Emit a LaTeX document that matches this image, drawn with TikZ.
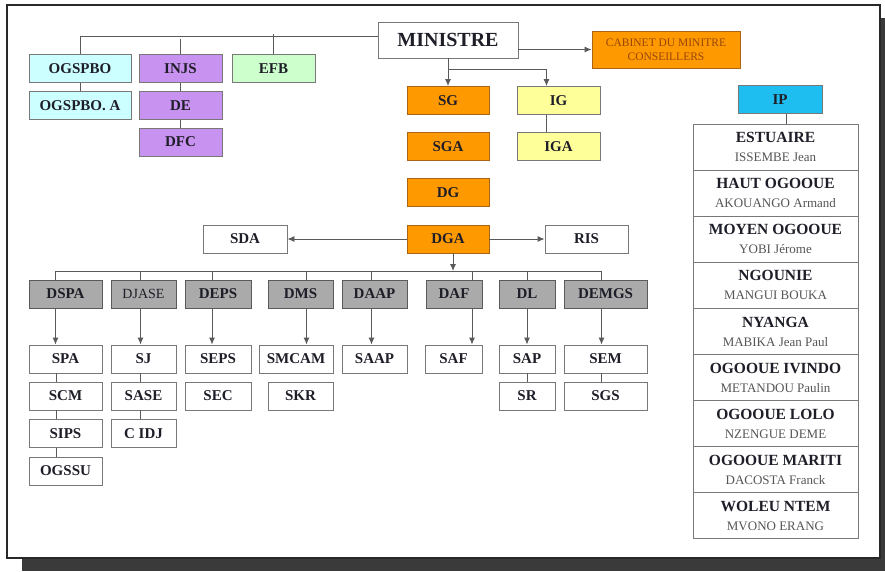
\documentclass[tikz,border=0pt]{standalone}
\usepackage{fontspec}
\setmainfont{Liberation Serif}
\usetikzlibrary{arrows.meta}

\definecolor{framegray}{RGB}{40,40,40}
\definecolor{shadowgray}{RGB}{58,58,58}
\definecolor{linegray}{RGB}{90,90,90}
\definecolor{boxline}{RGB}{120,120,120}
\definecolor{boxtext}{RGB}{30,30,40}
\definecolor{orgfill}{RGB}{255,153,0}
\definecolor{orgline}{RGB}{170,100,20}
\definecolor{cabtext}{RGB}{150,70,10}
\definecolor{cyanfill}{RGB}{204,255,255}
\definecolor{purfill}{RGB}{200,146,240}
\definecolor{grnfill}{RGB}{204,255,204}
\definecolor{yelfill}{RGB}{255,255,153}
\definecolor{ipfill}{RGB}{30,190,240}
\definecolor{dirfill}{RGB}{170,170,170}
\definecolor{namegray}{RGB}{85,85,85}

\newcommand{\prov}[2]{{\bfseries #1}\\{\fontsize{13}{19}\selectfont\color{namegray}#2}}

\tikzset{
	box/.style={rectangle, draw=boxline, fill=white, line width=0.9pt, inner sep=0pt,
		minimum height=28pt, text=boxtext, font=\bfseries\fontsize{15}{15}\selectfont},
	orgbox/.style={box, fill=orgfill, draw=orgline},
	cyanbox/.style={box, fill=cyanfill},
	purbox/.style={box, fill=purfill},
	grnbox/.style={box, fill=grnfill},
	yelbox/.style={box, fill=yelfill},
	dirbox/.style={box, fill=dirfill, draw=linegray},
	row/.style={box, minimum width=165pt, minimum height=46.1pt, align=center,
		font=\fontsize{15.5}{19}\selectfont},
	link/.style={draw=linegray, line width=0.9pt},
	arr/.style={link, -{Latex[length=7pt,width=6pt]}}
}

\begin{document}
\begin{tikzpicture}[x=1pt,y=-1pt]

	\useasboundingbox (0,0) rectangle (885,571);
	\fill[shadowgray] (22,18) rectangle (885,571);
	\draw[framegray, line width=1.5pt, fill=white] (7,5) rectangle (880,558);

	% top
	\node[box, minimum width=140pt, minimum height=36pt, font=\bfseries\fontsize{20}{20}\selectfont] (minis) at (448,40) {MINISTRE};
	\node[orgbox, minimum width=148pt, minimum height=37pt, align=center, text=cabtext, font=\fontsize{11.5}{13.5}\selectfont] (cab) at (666,49.5) {CABINET DU MINITRE\\CONSEILLERS};

	\node[cyanbox, minimum width=102pt] (ogspbo) at (80,68.5) {OGSPBO};
	\node[cyanbox, minimum width=102pt] (ogspboa) at (80,105.5) {OGSPBO. A};
	\node[purbox, minimum width=83pt] (injs) at (180.5,68.5) {INJS};
	\node[purbox, minimum width=83pt] (de) at (180.5,105.5) {DE};
	\node[purbox, minimum width=83pt] (dfc) at (180.5,142) {DFC};
	\node[grnbox, minimum width=83pt] (efb) at (273.5,68.5) {EFB};

	\node[orgbox, minimum width=82pt] (sg) at (448,100.5) {SG};
	\node[orgbox, minimum width=82pt] (sga) at (448,146.5) {SGA};
	\node[orgbox, minimum width=82pt] (dg) at (448,192.5) {DG};
	\node[orgbox, minimum width=82pt] (dga) at (448,239) {DGA};
	\node[yelbox, minimum width=83pt] (ig) at (558.5,100.5) {IG};
	\node[yelbox, minimum width=83pt] (iga) at (558.5,146.5) {IGA};
	\node[box, minimum width=84pt] (sda) at (245,239) {SDA};
	\node[box, minimum width=83pt] (ris) at (586.5,239) {RIS};

	% provinces
	\node[box, fill=ipfill, minimum width=84pt] (ip) at (780,99.5) {IP};
	\node[row] (r1) at (775.5,147.05) {\prov{ESTUAIRE}{ISSEMBE Jean}};
	\node[row] (r2) at (775.5,193.15) {\prov{HAUT OGOOUE}{AKOUANGO Armand}};
	\node[row] (r3) at (775.5,239.25) {\prov{MOYEN OGOOUE}{YOBI Jérome}};
	\node[row] (r4) at (775.5,285.35) {\prov{NGOUNIE}{MANGUI BOUKA}};
	\node[row] (r5) at (775.5,331.45) {\prov{NYANGA}{MABIKA Jean Paul}};
	\node[row] (r6) at (775.5,377.55) {\prov{OGOOUE IVINDO}{METANDOU Paulin}};
	\node[row] (r7) at (775.5,423.65) {\prov{OGOOUE LOLO}{NZENGUE DEME}};
	\node[row] (r8) at (775.5,469.75) {\prov{OGOOUE MARITI}{DACOSTA Franck}};
	\node[row] (r9) at (775.5,515.85) {\prov{WOLEU NTEM}{MVONO ERANG}};

	% directions
	\node[dirbox, minimum width=73pt] (dspa) at (65.5,294) {DSPA};
	\node[dirbox, minimum width=65pt, font=\fontsize{14}{14}\selectfont] (djase) at (143.5,294) {DJASE};
	\node[dirbox, minimum width=66pt] (deps) at (218,294) {DEPS};
	\node[dirbox, minimum width=65pt] (dms) at (300.5,294) {DMS};
	\node[dirbox, minimum width=65pt] (daap) at (374.5,294) {DAAP};
	\node[dirbox, minimum width=56pt] (daf) at (454,294) {DAF};
	\node[dirbox, minimum width=56pt] (dl) at (527,294) {DL};
	\node[dirbox, minimum width=83pt] (demgs) at (605.5,294) {DEMGS};

	% services
	\node[box, minimum width=73pt] (spa) at (65.5,359) {SPA};
	\node[box, minimum width=73pt] (scm) at (65.5,396) {SCM};
	\node[box, minimum width=73pt] (sips) at (65.5,433.5) {SIPS};
	\node[box, minimum width=73pt] (ogssu) at (65.5,471) {OGSSU};
	\node[box, minimum width=65pt] (sj) at (143.5,359) {SJ};
	\node[box, minimum width=65pt] (sase) at (143.5,396) {SASE};
	\node[box, minimum width=65pt] (cidj) at (143.5,433.5) {C IDJ};
	\node[box, minimum width=66pt] (seps) at (218,359) {SEPS};
	\node[box, minimum width=66pt] (sec) at (218,396) {SEC};
	\node[box, minimum width=74pt] (smcam) at (296,359) {SMCAM};
	\node[box, minimum width=65pt] (skr) at (300.5,396) {SKR};
	\node[box, minimum width=65pt] (saap) at (374.5,359) {SAAP};
	\node[box, minimum width=57pt] (saf) at (453.5,359) {SAF};
	\node[box, minimum width=56pt] (sap) at (527,359) {SAP};
	\node[box, minimum width=56pt] (sr) at (527,396) {SR};
	\node[box, minimum width=83pt] (sem) at (605.5,359) {SEM};
	\node[box, minimum width=83pt] (sgs) at (605.5,396) {SGS};

	\coordinate (mjoin) at (448,69);
	\coordinate (bus) at (453,271);

	% top connectors
	\draw[link] (ogspbo.north) |- ([yshift=4pt]minis.west);
	\draw[link] (injs.north) -- (injs.north |- ogspbo.north) -- ++(0,-15);
	\draw[link] (efb.north) -- ++(0,-20.5);
	\draw[link] (ogspbo) -- (ogspboa);
	\draw[link] (injs) -- (de);
	\draw[link] (de) -- (dfc);
	\draw[arr] (minis.east |- cab.west) -- (cab.west);
	\draw[arr] (minis) -- (sg);
	\draw[arr] (mjoin) -| ([xshift=-12pt]ig.north);
	\draw[link] ([xshift=-12pt]ig.south) -- ([xshift=-12pt]iga.north);
	\draw[link] ([xshift=6pt]ip.south) -- ([xshift=6pt]ip.south |- r1.north);

	\draw[arr] (dga) -- (sda);
	\draw[arr] (dga) -- (ris);
	\draw[arr] (bus |- dga.south) -- (bus);
	\draw[link] ([xshift=-10pt]dspa.north |- bus) -- ([xshift=-4pt]demgs.north |- bus);

	% bus drops
	\draw[link] ([xshift=-10pt]dspa.north) -- ([xshift=-10pt]dspa.north |- bus);
	\draw[link] ([xshift=-3pt]djase.north) -- ([xshift=-3pt]djase.north |- bus);
	\draw[link] ([xshift=-6pt]deps.north) -- ([xshift=-6pt]deps.north |- bus);
	\draw[link] ([xshift=6pt]dms.north) -- ([xshift=6pt]dms.north |- bus);
	\draw[link] ([xshift=-3pt]daap.north) -- ([xshift=-3pt]daap.north |- bus);
	\draw[link] ([xshift=18pt]daf.north) -- ([xshift=18pt]daf.north |- bus);
	\draw[link] (dl.north) -- (dl.north |- bus);
	\draw[link] ([xshift=-4pt]demgs.north) -- ([xshift=-4pt]demgs.north |- bus);

	% to services
	\draw[arr] ([xshift=-10pt]dspa.south) -- ([xshift=-10pt]spa.north);
	\draw[arr] ([xshift=-3pt]djase.south) -- ([xshift=-3pt]sj.north);
	\draw[arr] ([xshift=-6pt]deps.south) -- ([xshift=-6pt]seps.north);
	\draw[arr] ([xshift=6pt]dms.south) -- ([xshift=6pt]dms.south |- smcam.north);
	\draw[arr] ([xshift=-3pt]daap.south) -- ([xshift=-3pt]saap.north);
	\draw[arr] ([xshift=18pt]daf.south) -- ([xshift=18pt]daf.south |- saf.north);
	\draw[arr] (dl) -- (sap);
	\draw[arr] ([xshift=-4pt]demgs.south) -- ([xshift=-4pt]sem.north);

	\draw[link] ([xshift=-9pt]spa.south) -- ([xshift=-9pt]scm.north);
	\draw[link] ([xshift=-9pt]scm.south) -- ([xshift=-9pt]sips.north);
	\draw[link] ([xshift=-9pt]sips.south) -- ([xshift=-9pt]ogssu.north);
	\draw[link] ([xshift=-3pt]sj.south) -- ([xshift=-3pt]sase.north);
	\draw[link] ([xshift=-3pt]sase.south) -- ([xshift=-3pt]cidj.north);
	\draw[link] (sap) -- (sr);
	\draw[link] ([xshift=-4pt]sem.south) -- ([xshift=-4pt]sgs.north);

\end{tikzpicture}
\end{document}
